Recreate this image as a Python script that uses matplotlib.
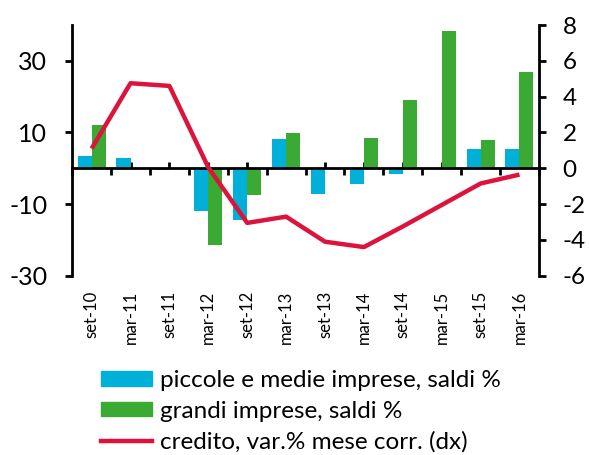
import matplotlib

matplotlib.use("Agg")
import matplotlib.pyplot as plt
import numpy as np
from matplotlib.lines import Line2D
from matplotlib.patches import Patch

periods = ["set-10", "mar-11", "set-11", "mar-12", "set-12", "mar-13",
           "set-13", "mar-14", "set-14", "mar-15", "set-15", "mar-16"]
pmi = [3.4, 2.8, -0.4, -11.9, -14.5, 8.2, -7.1, -4.4, -1.6, -0.3, 5.4, 5.4]
grandi = [12.1, 0.0, 0.0, -21.3, -7.4, 9.9, 0.0, 8.4, 19.1, 38.3, 8.0, 26.8]
credito = [1.1, 4.75, 4.6, 0.05, -3.05, -2.7, -4.1, -4.4, -3.25, -2.05, -0.85, -0.35]

BLUE = "#00B0D8"
GREEN = "#3AAA35"
RED = "#DC143C"

plt.rcParams["font.family"] = ["Lato", "DejaVu Sans"]
plt.rcParams["axes.unicode_minus"] = False

fig = plt.figure(figsize=(5.89, 4.55), dpi=100)
ax = fig.add_axes([0.1225, 0.394, 0.7925, 0.551])

x = np.arange(len(periods))
w = 0.36
ax.bar(x - w / 2, pmi, width=w, color=BLUE, zorder=2)
ax.bar(x + w / 2, grandi, width=w, color=GREEN, zorder=2)

ax.set_xlim(-0.5, len(periods) - 0.5)
ax.set_ylim(-30, 40)
ax.set_yticks([-30, -10, 10, 30])
ax.tick_params(axis="y", direction="out", length=5, width=2, labelsize=18, pad=13)

# horizontal axis drawn at zero: ticks up at the centres, down at the boundaries
ax.spines["bottom"].set_position(("data", 0))
ax.set_xticks(x)
ax.set_xticks(np.arange(len(periods) + 1) - 0.5, minor=True)
ax.tick_params(axis="x", which="major", direction="in", length=4, width=2, labelbottom=False)
ax.tick_params(axis="x", which="minor", direction="out", length=5, width=2)
for side in ["top", "right"]:
    ax.spines[side].set_visible(False)
for side in ["left", "bottom"]:
    ax.spines[side].set_linewidth(2)
    ax.spines[side].set_zorder(3)

labels_ax = ax.secondary_xaxis("bottom")
labels_ax.set_xticks(x)
labels_ax.set_xticklabels(periods, rotation=90, fontsize=12)
labels_ax.tick_params(length=0, pad=11)
labels_ax.spines["bottom"].set_visible(False)

ax2 = ax.twinx()
ax2.plot(x, credito, color=RED, linewidth=3.2, solid_capstyle="butt", zorder=4)
ax2.set_ylim(-6, 8)
ax2.set_yticks(np.arange(-6, 9, 2))
ax2.tick_params(axis="y", direction="out", length=5, width=2, labelsize=17.5, pad=12)
for lab in ax2.get_yticklabels():
    lab.set_horizontalalignment("left")
for side in ["top", "left", "bottom"]:
    ax2.spines[side].set_visible(False)
ax2.spines["right"].set_linewidth(2)

handles = [
    Patch(color=BLUE),
    Patch(color=GREEN),
    Line2D([], [], color=RED, linewidth=3.2),
]
names = [
    "piccole e medie imprese, saldi %",
    "grandi imprese, saldi %",
    "credito, var.% mese corr. (dx)",
]
fig.legend(handles, names, loc="upper left", bbox_to_anchor=(0.172, 0.187),
           frameon=False, fontsize=17.5, handlelength=2.1, handleheight=0.55,
           handletextpad=0.3, labelspacing=0.4, borderaxespad=0, borderpad=0)

fig.savefig("out.png", dpi=100)
